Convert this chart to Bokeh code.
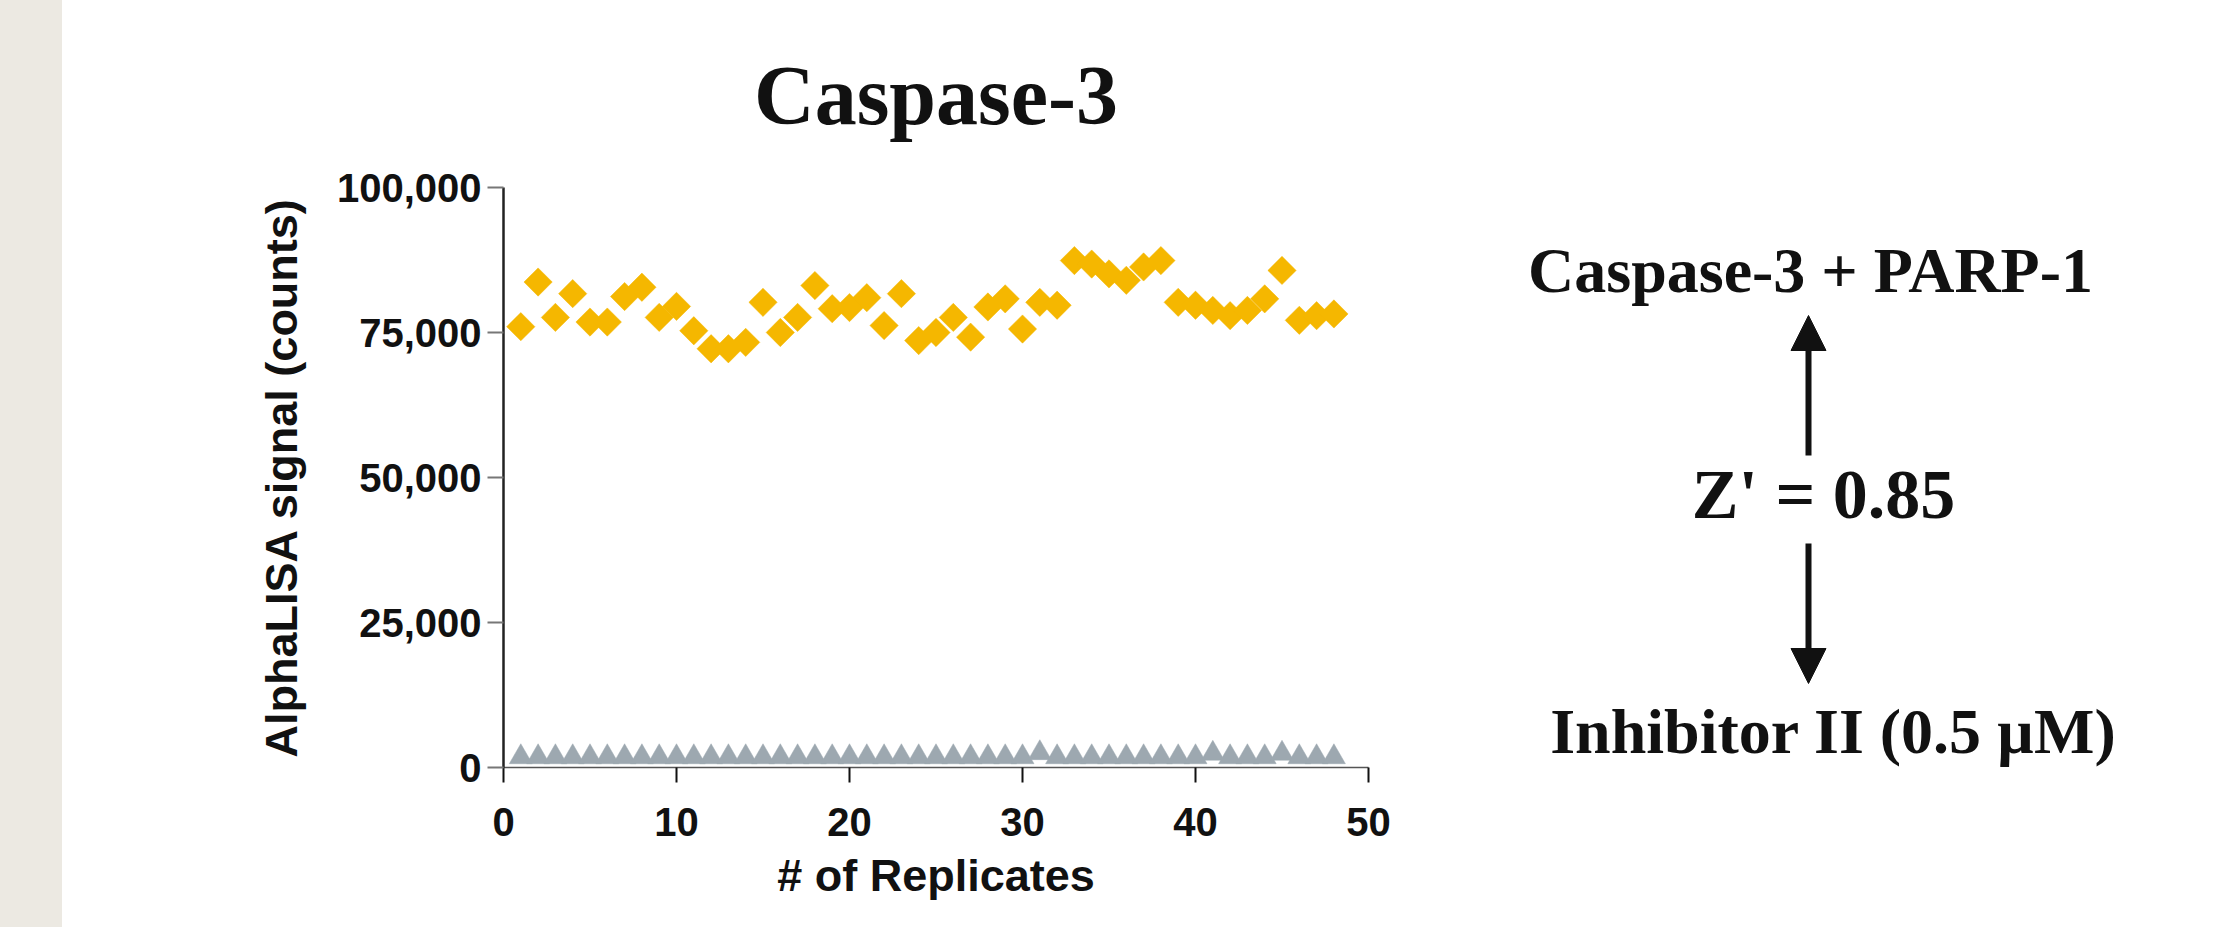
import numpy as np
from bokeh.plotting import figure
from bokeh.models import Range1d, FixedTicker, NumeralTickFormatter, Div, Label, Arrow, NormalHead
from bokeh.layouts import row
from bokeh.embed import file_html
from bokeh.resources import INLINE

# ---------------- data ----------------
replicates = list(range(1, 49))
caspase_parp = [76000, 83700, 77600, 81700, 76800, 76800, 81200, 82800, 77600, 79500,
                75300, 72200, 72200, 73300, 80200, 75000, 77600, 83100, 79100, 79300,
                81000, 76200, 81700, 73600, 75000, 77600, 74200, 79400, 80800, 75600,
                80200, 79700, 87400, 86800, 85100, 84000, 86300, 87400, 80200, 79700,
                78800, 77900, 78800, 80800, 85700, 77100, 77900, 78200]
inhibitor = [1800, 1800, 1800, 1800, 1800, 1800, 1800, 1800, 1800, 1800,
             1800, 1800, 1800, 1800, 1800, 1800, 1800, 1800, 1800, 1800,
             1800, 1800, 1800, 1800, 1800, 1800, 1800, 1800, 1800, 1800,
             2500, 1800, 1800, 1800, 1800, 1800, 1800, 1800, 1800, 1800,
             2400, 1800, 1800, 1800, 2400, 1800, 1800, 1800]
x_ticks = [0, 10, 20, 30, 40, 50]
y_ticks = [0, 25000, 50000, 75000, 100000]
title_text = "Caspase-3"
x_label = "# of Replicates"
y_label = "AlphaLISA signal (counts)"
top_label = "Caspase-3 + PARP-1"
z_label = "Z' = 0.85"
bottom_label = "Inhibitor II (0.5 \u00b5M)"

SANS = "Liberation Sans"
SERIF = "Liberation Serif"

# ---------------- main chart ----------------
p = figure(width=1368, height=927, output_backend="svg", toolbar_location=None,
           x_range=Range1d(0, 50), y_range=Range1d(0, 100000),
           min_border_left=441, min_border_right=62, min_border_top=187, min_border_bottom=160)
p.outline_line_color = None
p.grid.visible = False
p.background_fill_color = "white"
p.border_fill_color = "white"

p.title.text = title_text
p.title.align = "center"
p.title.text_font = SERIF
p.title.text_font_style = "bold"
p.title.text_font_size = "84px"
p.title.text_color = "#111111"
p.title.offset = 12
p.title.standoff = 92

p.scatter(replicates, inhibitor, marker="triangle", size=23, fill_color="#9DA8B0",
          line_color="#9DA8B0", line_width=0.5)
p.scatter(replicates, caspase_parp, marker="square", angle=np.pi / 4, size=20,
          fill_color="#F5B700", line_color="#F5B700", line_width=0.5)

xa = p.xaxis[0]
xa.ticker = FixedTicker(ticks=x_ticks)
xa.minor_tick_line_color = None
xa.axis_line_color = "#555555"
xa.axis_line_width = 1.5
xa.major_tick_line_color = "#111111"
xa.major_tick_line_width = 2
xa.major_tick_out = 15
xa.major_tick_in = 0
xa.major_label_standoff = 25
xa.axis_label = x_label
xa.axis_label_standoff = 11

ya = p.yaxis[0]
ya.ticker = FixedTicker(ticks=y_ticks)
ya.formatter = NumeralTickFormatter(format="0,0")
ya.minor_tick_line_color = None
ya.axis_line_color = "#222222"
ya.axis_line_width = 2.5
ya.major_tick_line_color = "#777777"
ya.major_tick_line_width = 2
ya.major_tick_out = 16
ya.major_tick_in = 0
ya.major_label_standoff = 6
ya.axis_label = y_label
ya.axis_label_standoff = 27

for ax in (xa, ya):
    ax.major_label_text_font = SANS
    ax.major_label_text_font_style = "bold"
    ax.major_label_text_font_size = "40px"
    ax.major_label_text_color = "#111111"
    ax.axis_label_text_font = SANS
    ax.axis_label_text_font_style = "bold"
    ax.axis_label_text_font_size = "45px"
    ax.axis_label_text_color = "#111111"

# ---------------- right annotation panel ----------------
# its frame is aligned with the main chart's frame (page y 187..767)
q = figure(width=810, height=927, output_backend="svg", toolbar_location=None,
           x_range=Range1d(0, 810), y_range=Range1d(767, 187),
           min_border=0)
q.axis.visible = False
q.grid.visible = False
q.outline_line_color = None
q.border_fill_color = "white"
q.background_fill_color = "white"

def lab(text, x, y, size):
    q.add_layout(Label(x=x, y=y, text=text, text_align="center", text_baseline="alphabetic",
                       text_font=SERIF, text_font_style="bold", text_font_size=size,
                       text_color="#111111"))

lab(top_label, 380, 270, "64px")
lab(z_label, 393, 494, "70px")
lab(bottom_label, 403, 731, "64px")

q.add_layout(Arrow(x_start=378, y_start=455, x_end=378, y_end=315, line_width=6,
                   line_color="#111111",
                   end=NormalHead(size=35, fill_color="#111111", line_color="#111111")))
q.add_layout(Arrow(x_start=378, y_start=543, x_end=378, y_end=683, line_width=6,
                   line_color="#111111",
                   end=NormalHead(size=35, fill_color="#111111", line_color="#111111")))

strip = Div(width=62, height=927, margin=0, styles={"background-color": "#ECE9E2"})

layout = row(strip, p, q, spacing=0)
open("out.html", "w").write(file_html(layout, INLINE))
